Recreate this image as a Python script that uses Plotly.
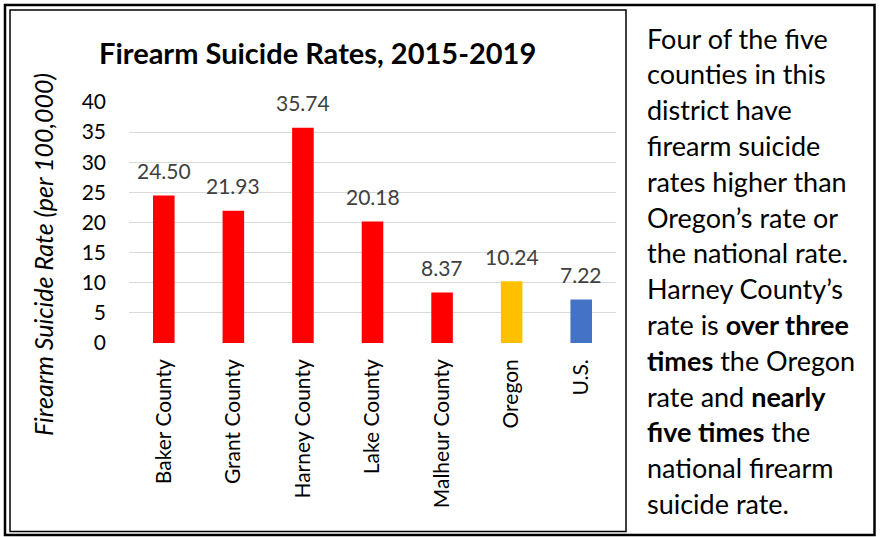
import plotly.graph_objects as go

categories = ["Baker County", "Grant County", "Harney County", "Lake County",
              "Malheur County", "Oregon", "U.S."]
rates = [24.50, 21.93, 35.74, 20.18, 8.37, 10.24, 7.22]
bar_colors = ["#FF0000", "#FF0000", "#FF0000", "#FF0000", "#FF0000", "#FFC000", "#4472C4"]
y_ticks = [0, 5, 10, 15, 20, 25, 30, 35, 40]
title_text = "Firearm Suicide Rates, 2015-2019"
y_title = "Firearm Suicide Rate (per 100,000)"
side_lines = [
    "Four of the five",
    "counties in this",
    "district have",
    "firearm suicide",
    "rates higher than",
    "Oregon’s rate or",
    "the national rate.",
    "Harney County’s",
    "rate is <b>over three</b>",
    "<b>times</b> the Oregon",
    "rate and <b>nearly</b>",
    "<b>five times</b> the",
    "national firearm",
    "suicide rate.",
]

W, H = 881, 537
ML, MR, MT, MB = 129, 265, 102, 194
PW, PH = W - ML - MR, H - MT - MB
FONT = "Lato, Carlito, Calibri, sans-serif"


def px(x):
    return (x - ML) / PW


def py(y):
    return (H - MB - y) / PH


fig = go.Figure(go.Bar(
    x=categories, y=rates, marker=dict(color=bar_colors, line=dict(width=0)),
    width=0.31, hoverinfo="skip",
))

annotations = []
for c, v in zip(categories, rates):
    annotations.append(dict(x=c, y=v, xref="x", yref="y", text=f"{v:.2f}",
                            showarrow=False, yanchor="middle", yshift=25,
                            font=dict(family=FONT, size=21, color="#404040")))

annotations.append(dict(x=px(317), y=py(52), xref="paper", yref="paper",
                        text=f"<b>{title_text}</b>", showarrow=False,
                        xanchor="center", yanchor="middle",
                        font=dict(family=FONT, size=29, color="#000000")))

annotations.append(dict(x=px(43), y=py(255), xref="paper", yref="paper",
                        text=f"<i>{y_title}</i>", showarrow=False, textangle=-90,
                        xanchor="center", yanchor="middle",
                        font=dict(family=FONT, size=25, color="#000000")))

for i, line in enumerate(side_lines):
    annotations.append(dict(x=px(645), y=py(38 + i * 35.8), xref="paper", yref="paper",
                            text=line, showarrow=False, xanchor="left", yanchor="middle",
                            font=dict(family=FONT, size=27, color="#000000")))

shapes = [
    dict(type="rect", xref="paper", yref="paper", x0=px(5), x1=px(874.5), y0=py(535), y1=py(5),
         line=dict(color="#000000", width=2.5)),
    dict(type="rect", xref="paper", yref="paper", x0=px(10), x1=px(626), y0=py(531.5), y1=py(10),
         line=dict(color="#000000", width=1.5)),
]

fig.update_layout(
    width=W, height=H,
    margin=dict(l=ML, r=MR, t=MT, b=MB, pad=0),
    paper_bgcolor="white", plot_bgcolor="white",
    showlegend=False,
    bargap=0.69,
    annotations=annotations,
    shapes=shapes,
    font=dict(family=FONT, color="#000000"),
    xaxis=dict(tickangle=-90, tickfont=dict(family=FONT, size=21, color="#000000"),
               showgrid=False, showline=False, ticks="", zeroline=False,
               ticklabelstandoff=11),
    yaxis=dict(range=[0, 40], tickvals=y_ticks, showgrid=True, gridcolor="#D9D9D9",
               gridwidth=1.3, zeroline=False, showline=False, ticks="",
               tickfont=dict(family=FONT, size=21, color="#000000"),
               ticklabelstandoff=22),
)

fig.write_html("out.html", config={"displayModeBar": False},
               post_script="document.body.style.margin='0';document.body.style.overflow='hidden';")
